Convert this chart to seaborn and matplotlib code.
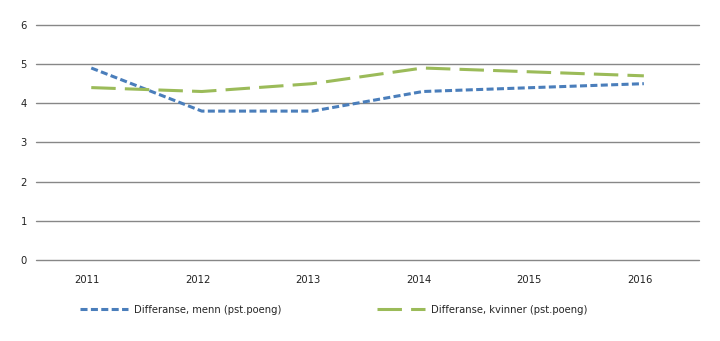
import matplotlib
matplotlib.use("Agg")
import matplotlib.pyplot as plt
import matplotlib.transforms as mtransforms
from matplotlib.lines import Line2D
import seaborn as sns
import pandas as pd

years = ["2011", "2012", "2013", "2014", "2015", "2016"]
menn = [4.9, 3.8, 3.8, 4.3, 4.4, 4.5]
kvinner = [4.4, 4.3, 4.5, 4.9, 4.8, 4.7]
label_menn = "Differanse, menn (pst.poeng)"
label_kvinner = "Differanse, kvinner (pst.poeng)"

BLUE = "#4A7EBB"
GREEN = "#9BBB59"
DASH_BLUE = (2.3, 1.1)
DASH_GREEN = (8, 3)
LW = 2.2

sns.set_theme(style="white")
plt.rcParams["font.family"] = ["DejaVu Sans"]
plt.rcParams["font.stretch"] = "condensed"

df = pd.DataFrame({
    "x": list(range(len(years))) * 2,
    "value": menn + kvinner,
    "series": [label_menn] * len(years) + [label_kvinner] * len(years),
})

fig = plt.figure(figsize=(7.2, 3.41), dpi=100)
ax = fig.add_axes([0.05, 0.2375, 0.921, 0.6895])

sns.lineplot(data=df, x="x", y="value", hue="series", style="series",
             palette={label_menn: BLUE, label_kvinner: GREEN},
             dashes={label_menn: DASH_BLUE, label_kvinner: DASH_GREEN},
             linewidth=LW, ax=ax, legend=False)

ax.set_xlim(-0.5, len(years) - 0.5)
ax.set_ylim(0, 6)
ax.set_yticks(range(0, 7))
ax.set_xticks(range(len(years)))
ax.set_xticklabels(years)
ax.set_xlabel("")
ax.set_ylabel("")
for y in range(0, 7):
    ax.axhline(y, color="#878787", linewidth=1.0, zorder=0, clip_on=False)
for s in ax.spines.values():
    s.set_visible(False)
ax.tick_params(axis="both", length=0, labelsize=8, colors="#222222")
ax.tick_params(axis="y", pad=6.5)
ax.tick_params(axis="x", pad=11)
shift = mtransforms.ScaledTranslation(-4 / 100, 0, fig.dpi_scale_trans)
for lab in ax.get_xticklabels():
    lab.set_transform(lab.get_transform() + shift)

h1 = [Line2D([], [], color=BLUE, linewidth=LW, dashes=DASH_BLUE)]
h2 = [Line2D([], [], color=GREEN, linewidth=LW, dashes=DASH_GREEN)]
common = dict(loc="center left", frameon=False, fontsize=8, handlelength=4.3,
              handletextpad=0.55, borderpad=0, borderaxespad=0)
fig.legend(h1, [label_menn], bbox_to_anchor=(80 / 720, 1 - 310 / 341), **common)
fig.legend(h2, [label_kvinner], bbox_to_anchor=(377 / 720, 1 - 310 / 341), **common)

fig.savefig("out.png", dpi=100)
